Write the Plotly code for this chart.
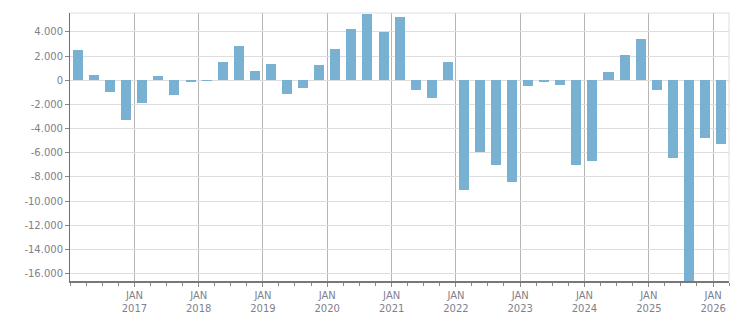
import plotly.graph_objects as go

quarters = [f"{y}-{m:02d}-01" for y in range(2016, 2027) for m in (1, 4, 7, 10)][:41]
values = [
    2500, 450, -1000, -3300,
    -1850, 370, -1250, -150,
    -60, 1550, 2850, 800,
    1350, -1100, -650, 1300,
    2600, 4200, 5500, 3950,
    5250, -800, -1450, 1550,
    -9100, -5900, -7000, -8450,
    -450, -80, -380, -7000,
    -6650, 700, 2100, 3450,
    -800, -6400, -16600, -4800,
    -5300,
]
year_ticks = [f"{y}-01-01" for y in range(2017, 2027)]
year_labels = [f"JAN<br>{y}" for y in range(2017, 2027)]
y_ticks = list(range(-16000, 4001, 2000))
y_labels = [f"{v:,}".replace(",", ".") for v in y_ticks]

label_color = "#7f7f8e"
font = dict(family="DejaVu Sans", size=10, color=label_color)

fig = go.Figure(go.Bar(
    x=quarters, y=values,
    xperiod="M3", xperiodalignment="middle",
    width=57 * 86400000,
    marker=dict(color="#79b1d3", line=dict(width=0)),
))

fig.update_layout(
    width=751, height=313,
    margin=dict(l=70, r=22, t=13, b=32),
    paper_bgcolor="white", plot_bgcolor="white",
    showlegend=False,
    bargap=0,
    font=font,
    xaxis=dict(
        type="date",
        automargin=False,
        range=["2016-01-01", "2026-04-01"],
        tickvals=year_ticks, ticktext=year_labels,
        tickfont=font,
        showgrid=True, gridcolor="#b5b5b5", gridwidth=1,
        showline=True, linecolor="#787878", linewidth=2,
        ticks="outside", ticklen=4, tickcolor="#888888",
        minor=dict(tick0="2016-01-01", dtick="M3", ticks="outside",
                   ticklen=3, tickcolor="#888888", showgrid=False),
        zeroline=False,
    ),
    yaxis=dict(
        automargin=False,
        range=[-16600, 5560],
        tickvals=y_ticks, ticktext=y_labels,
        tickfont=font,
        showgrid=True, gridcolor="#dedede", gridwidth=1,
        showline=True, linecolor="#707070", linewidth=1,
        ticks="outside", ticklen=4, tickcolor="#888888",
        zeroline=False,
    ),
    shapes=[
        dict(type="line", xref="paper", yref="paper", x0=0, x1=1, y0=1, y1=1,
             line=dict(color="#dedede", width=1)),
        dict(type="line", xref="paper", yref="paper", x0=1, x1=1, y0=0, y1=1,
             line=dict(color="#dedede", width=1)),
    ],
)

fig.write_html("out.html")
